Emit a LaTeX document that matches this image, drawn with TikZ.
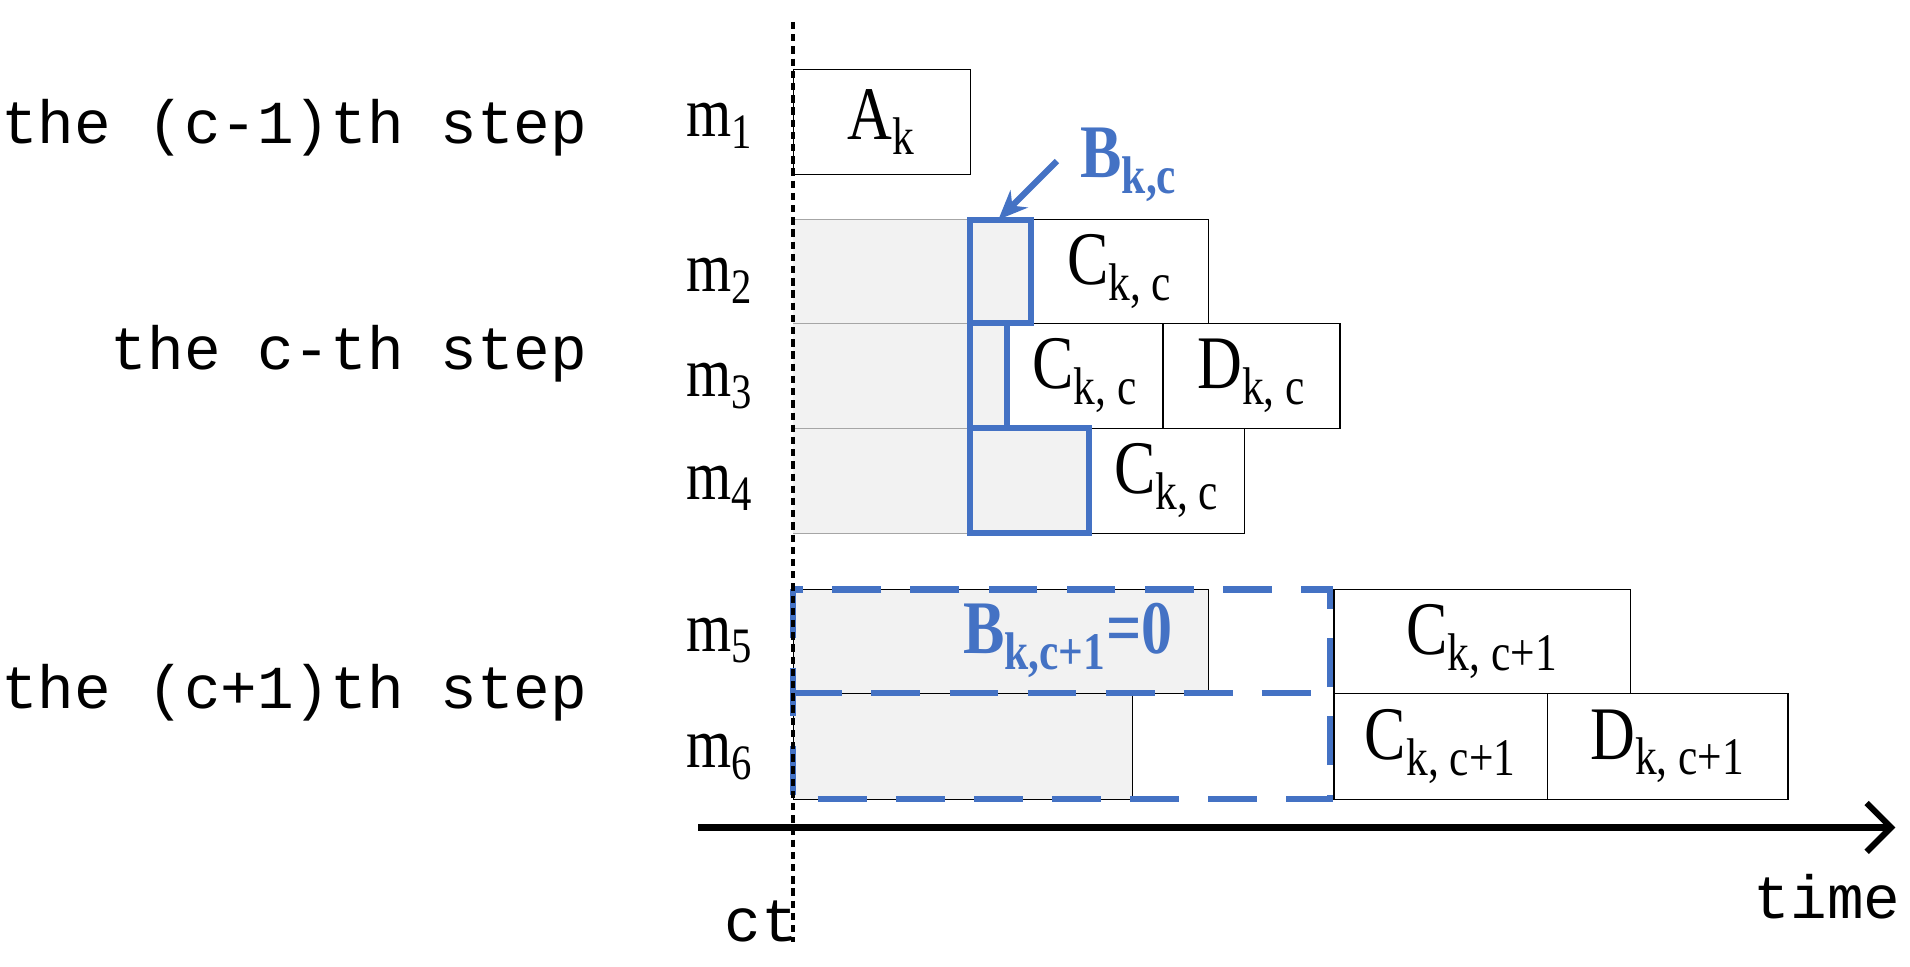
\documentclass[tikz,border=0pt]{standalone}
\usepackage{fontspec}
\setmainfont{Liberation Serif}[FakeStretch=0.82]
\newfontfamily\monof{Liberation Mono}
\usetikzlibrary{arrows.meta}
\definecolor{bl}{HTML}{4472C4}
\definecolor{gr}{HTML}{F2F2F2}
\begin{document}
\begin{tikzpicture}[x=0.5pt,y=-0.5pt,
  box/.style={draw=black,line width=0.5pt},
  gbox/.style={fill=gr,draw=black,line width=0.4pt},
  bbox/.style={draw=bl,line width=2.5pt},
  lab/.style={font=\fontsize{31}{31}\selectfont},
  mlab/.style={font=\fontsize{29}{29}\selectfont},
  steplab/.style={font=\monof\fontsize{25}{25}\selectfont,anchor=east},
  blab/.style={text=bl,font=\bfseries\fontsize{31}{31}\selectfont}]
\useasboundingbox (0,0) rectangle (1565,792);
% grey areas
\fill[gr] (650,180) rectangle (845,265);
\fill[gr] (650,265) rectangle (825,351);
\fill[gr] (650,351) rectangle (892,437);
\draw[gray!70,line width=0.4pt] (650,265)--(795,265) (650,351)--(795,351) (650,437)--(795,437) (650,180)--(795,180);
\draw[gbox] (650,483) rectangle (990,568);
\draw[gbox] (650,568) rectangle (928,655);
% boxes
\node[box,minimum width=72.5pt,minimum height=43pt,inner sep=0,lab] (A) at (722.5,100) {A\textsubscript{k}};
\node[box,minimum width=72.5pt,minimum height=42.5pt,inner sep=0,lab] (C2) at (917.5,222.5) {C\textsubscript{k, c}};
\node[box,minimum width=64pt,minimum height=43pt,inner sep=0,lab] (C3) at (889,308) {C\textsubscript{k, c}};
\node[box,minimum width=72.5pt,minimum height=43pt,inner sep=0,lab] (D3) at (1025.5,308) {D\textsubscript{k, c}};
\node[box,minimum width=64pt,minimum height=43pt,inner sep=0,lab] (C4) at (956,394) {C\textsubscript{k, c}};
\node[box,minimum width=121.5pt,minimum height=42.5pt,inner sep=0,lab] (C5) at (1214.5,525.5) {C\textsubscript{k, c+1}};
\node[box,minimum width=87.5pt,minimum height=43.5pt,inner sep=0,lab] (C6) at (1180.5,611.5) {C\textsubscript{k, c+1}};
\node[box,minimum width=98.5pt,minimum height=43.5pt,inner sep=0,lab] (D6) at (1366.5,611.5) {D\textsubscript{k, c+1}};
% blue boxes
\draw[bbox] (795,180) rectangle (845,265);
\draw[bbox] (795,265) rectangle (825,351);
\draw[bbox] (795,351) rectangle (892,437);
\draw[bl,line width=2.5pt,dash pattern=on 20pt off 12pt] (650,483) rectangle (1090,655);
\draw[bl,line width=2.5pt,dash pattern=on 20pt off 12pt] (650,568) -- (1090,568);
% labels
\node[blab] (Bkc) at (925,135) {B\textsubscript{k,c}};
\coordinate (Bt) at (818,180);
\draw[bl,line width=2.5pt,-{Stealth[length=12pt,width=10pt]}] (866,132) -- (Bt);
\node[blab] (B1) at (875,525) {B\textsubscript{k,c+1}=0};
% vertical dotted line
\coordinate (v1) at (650,18); \coordinate (v2) at (650,772);
\draw[line width=1.5pt,dash pattern=on 3pt off 2pt] (v1) -- (v2);
% axis
\coordinate (a1) at (572,678); \coordinate (a2) at (1553,678);
\draw[line width=2.5pt,-{Straight Barb[length=10pt,width=20pt,line width=2.5pt]}] (a1) -- (a2);
\node[steplab,anchor=center] (time) at (1497,735) {time};
\node[steplab,anchor=center] (ct) at (624,755) {ct};
% m labels
\node[mlab] (m1) at (590,103) {m\textsubscript{1}};
\node[mlab] (m2) at (590,230) {m\textsubscript{2}};
\node[mlab] (m3) at (590,316) {m\textsubscript{3}};
\node[mlab] (m4) at (590,400) {m\textsubscript{4}};
\node[mlab] (m5) at (590,525) {m\textsubscript{5}};
\node[mlab] (m6) at (590,620) {m\textsubscript{6}};
% step labels
\node[steplab] (s1) at (488,105) {the (c-1)th step};
\node[steplab] (s2) at (488,290) {the c-th step};
\node[steplab] (s3) at (488,568) {the (c+1)th step};
\end{tikzpicture}
\end{document}
